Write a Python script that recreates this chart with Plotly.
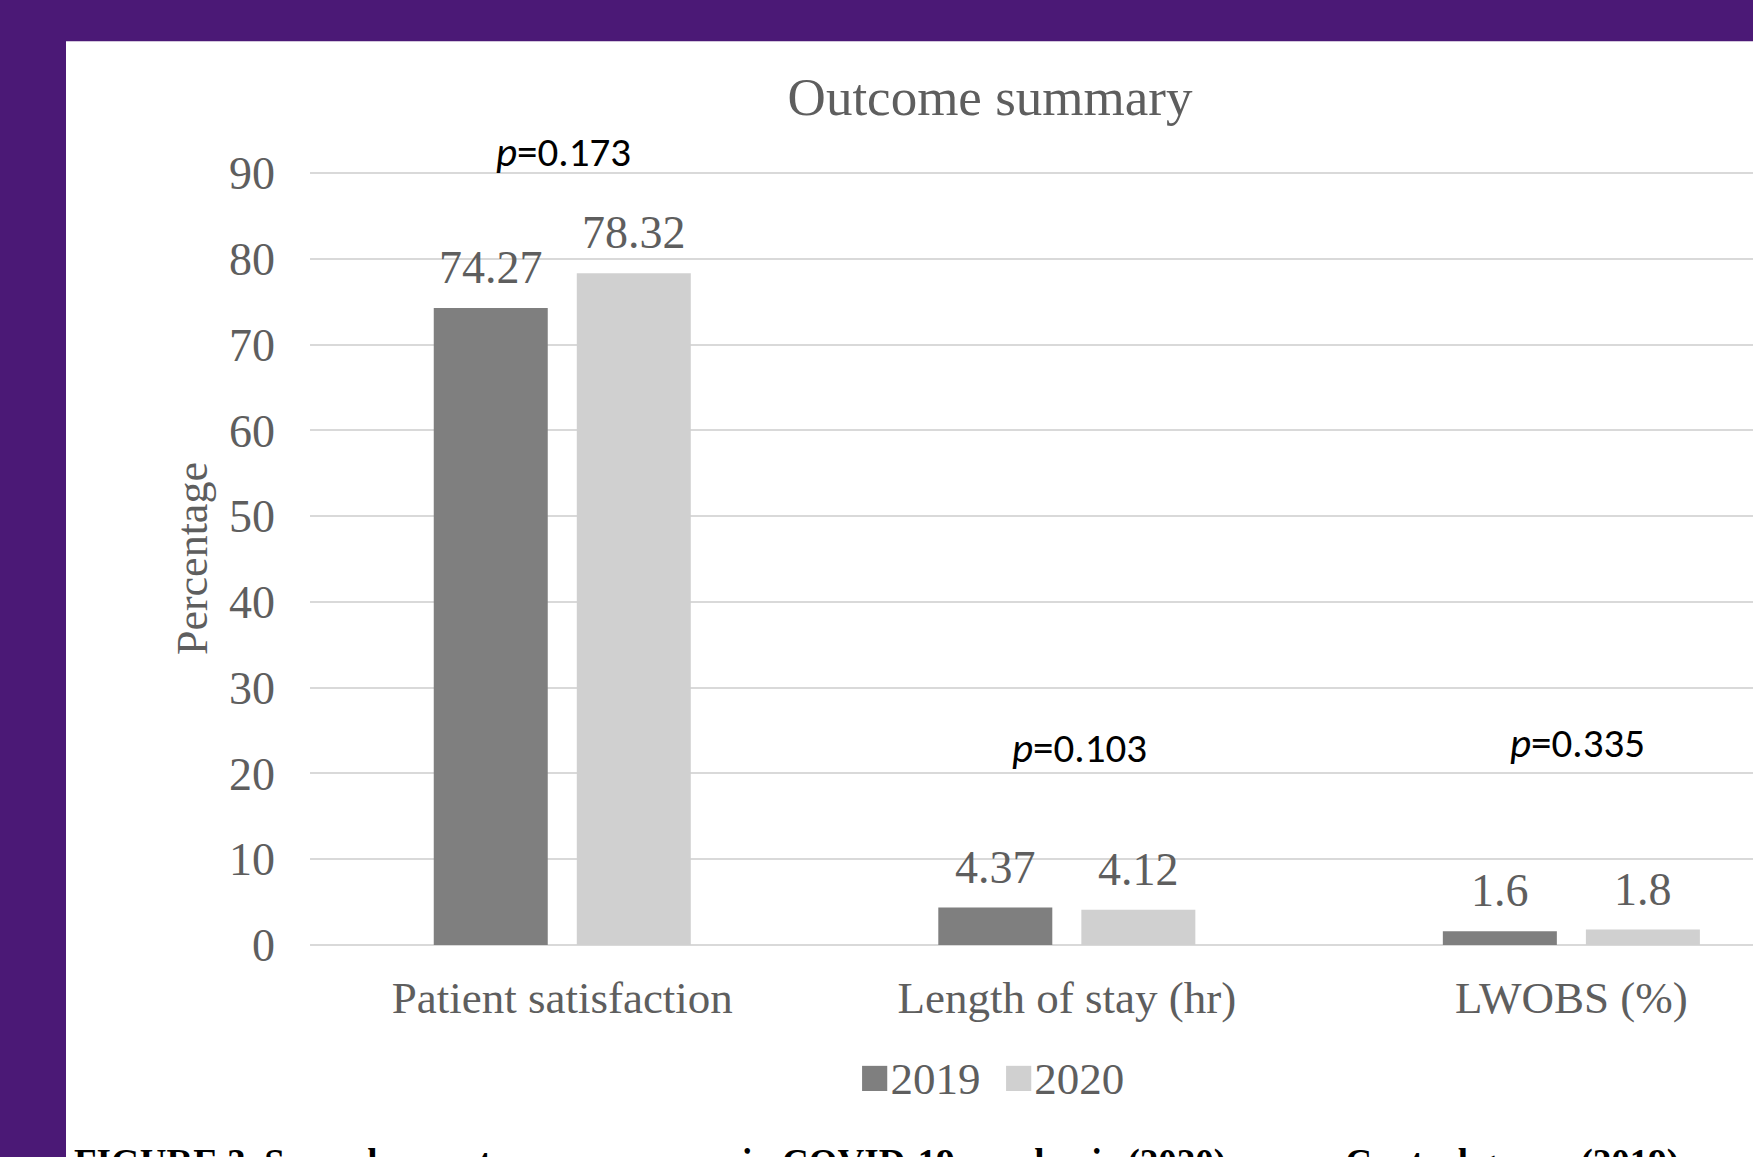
import plotly.graph_objects as go

# ---- data ----
categories = ["Patient satisfaction", "Length of stay (hr)", "LWOBS (%)"]
series_names = ["2019", "2020"]
values_2019 = [74.27, 4.37, 1.6]
values_2020 = [78.32, 4.12, 1.8]
p_values = ["0.173", "0.103", "0.335"]
y_ticks = [0, 10, 20, 30, 40, 50, 60, 70, 80, 90]

# ---- styling ----
W, H = 1753, 1157
PURPLE = "#4B1976"
DARK = "#7F7F7F"
LIGHT = "#D0D0D0"
TXT = "#5E5E5E"
GRID = "#D9D9D9"
SERIF = "Liberation Serif, Times New Roman, serif"
SANS = "Carlito, Calibri, Lato, sans-serif"

# plot area in pixels (y range tops out a little above 90 so its gridline shows)
Y_MAX = 90.6
L, R, B = 310, W, 945
T = B - (B - 173) * Y_MAX / 90


def px_x(px):
    return (px - L) / (R - L)


def px_y(py):
    return (B - py) / (B - T)


colors = [DARK, LIGHT]
series = [values_2019, values_2020]

fig = go.Figure()
for name, vals, col in zip(series_names, series, colors):
    fig.add_trace(go.Bar(
        x=categories, y=vals, name=name,
        marker=dict(color=col, line=dict(width=0)),
        showlegend=False, hoverinfo="skip",
    ))

annotations = []

# value labels above each bar (offset to the bar's slot within the group)
half_slot = 71.5
for i, (vals, col) in enumerate(zip(series, colors)):
    shift = -half_slot if i == 0 else half_slot
    for cat, v in zip(categories, vals):
        annotations.append(dict(
            x=cat, y=v, xref="x", yref="y", text=f"{v:g}" if v < 10 else f"{v:.2f}",
            showarrow=False, xshift=shift, yanchor="bottom", yshift=13,
            font=dict(family=SERIF, size=46, color=TXT),
        ))

# p-value labels over each group (pixel centres on the page)
p_centres = [(563, 152), (1079, 748), (1577, 743)]
for p, (cx, cy) in zip(p_values, p_centres):
    annotations.append(dict(
        x=px_x(cx), y=px_y(cy), xref="paper", yref="paper", text=f"<i>p</i>={p}",
        showarrow=False, xanchor="center", yanchor="middle",
        font=dict(family=SANS, size=41, color="#000000"),
    ))

# y-axis title
annotations.append(dict(
    x=px_x(192), y=px_y(559), xref="paper", yref="paper", text="Percentage",
    textangle=-90, showarrow=False, xanchor="center", yanchor="middle",
    font=dict(family=SERIF, size=44, color=TXT),
))

# legend row
legend_text = "&nbsp;&nbsp;".join(
    f'<span style="color:{c};font-size:52px">■</span>{n}'
    for n, c in zip(series_names, colors)
)
annotations.append(dict(
    x=px_x(991), y=px_y(1077), xref="paper", yref="paper", text=legend_text,
    showarrow=False, xanchor="center", yanchor="middle",
    font=dict(family=SERIF, size=45, color=TXT),
))

# figure caption (runs off the bottom edge)
annotations.append(dict(
    x=px_x(72), y=px_y(1140), xref="paper", yref="paper",
    text="<b>FIGURE 3&nbsp;&nbsp;Secondary outcome summary in COVID-19 pandemic (2020) versus Control group (2019)</b>",
    showarrow=False, xanchor="left", yanchor="top",
    font=dict(family=SERIF, size=37, color="#000000"),
))

# white panel on the purple page
shapes = [dict(
    type="rect", xref="paper", yref="paper", layer="below",
    x0=px_x(66), x1=1.05, y0=px_y(H + 10), y1=px_y(41),
    fillcolor="#FFFFFF", line=dict(width=0),
)]

fig.update_layout(
    width=W, height=H, autosize=False,
    margin=dict(l=L, r=W - R, t=T, b=H - B, pad=0),
    paper_bgcolor=PURPLE, plot_bgcolor="rgba(0,0,0,0)",
    barmode="group", bargap=0.433, bargroupgap=0.203,
    title=dict(
        text="Outcome summary", x=990 / W, xanchor="center",
        y=1 - 96 / H, yanchor="middle",
        font=dict(family=SERIF, size=53, color=TXT),
    ),
    xaxis=dict(
        type="category", range=[-0.5, 2.36], showgrid=False, zeroline=False,
        showline=False, ticks="", ticklabelstandoff=22,
        tickfont=dict(family=SERIF, size=45, color=TXT),
    ),
    yaxis=dict(
        range=[0, Y_MAX], tickvals=y_ticks, showgrid=True, gridcolor=GRID,
        gridwidth=2, zeroline=True, zerolinecolor=GRID, zerolinewidth=2,
        showline=False, ticks="", ticklabelstandoff=34,
        tickfont=dict(family=SERIF, size=46, color=TXT),
    ),
    annotations=annotations, shapes=shapes,
)

fig.write_html("out.html")
